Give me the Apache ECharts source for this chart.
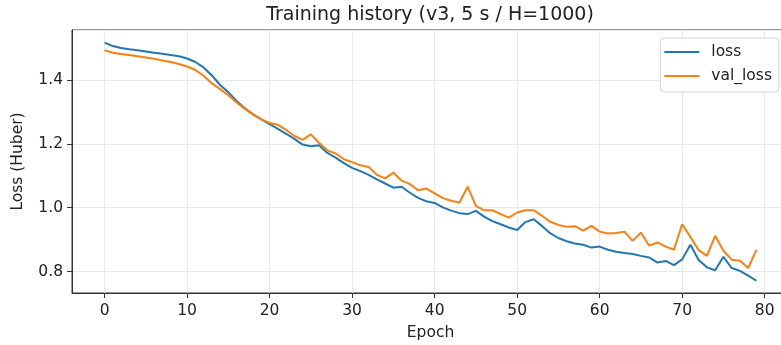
<!DOCTYPE html>
<html>
<head>
<meta charset="utf-8">
<script src="https://cdn.jsdelivr.net/npm/echarts@6/dist/echarts.min.js"></script>
<style>
  html, body { margin: 0; padding: 0; background: #fff; }
</style>
</head>
<body>
<div id="main" style="width:781px;height:345px;"></div>
<script type="text/javascript">
// per-epoch values
var epochs = [];
for (var i = 0; i < 80; i++) epochs.push(i);

var loss = [
  1.518, 1.507, 1.501, 1.497, 1.494, 1.490, 1.486, 1.483, 1.479, 1.475,
  1.468, 1.457, 1.440, 1.415, 1.385, 1.362, 1.335, 1.312, 1.293, 1.277,
  1.262, 1.247, 1.232, 1.216, 1.198, 1.193, 1.196, 1.172, 1.157, 1.140,
  1.125, 1.115, 1.103, 1.089, 1.076, 1.063, 1.066, 1.047, 1.031, 1.020,
  1.015, 1.001, 0.991, 0.983, 0.980, 0.990, 0.972, 0.958, 0.948, 0.938,
  0.930, 0.955, 0.964, 0.943, 0.920, 0.905, 0.895, 0.888, 0.884, 0.875,
  0.878, 0.868, 0.862, 0.858, 0.855, 0.849, 0.844, 0.828, 0.833, 0.820,
  0.838, 0.884, 0.836, 0.813, 0.804, 0.846, 0.811, 0.802, 0.787, 0.771
];

var valLoss = [
  1.494, 1.486, 1.482, 1.479, 1.475, 1.471, 1.467, 1.462, 1.457, 1.451,
  1.443, 1.432, 1.414, 1.390, 1.372, 1.353, 1.330, 1.310, 1.292, 1.277,
  1.266, 1.260, 1.244, 1.225, 1.213, 1.230, 1.203, 1.180, 1.170, 1.152,
  1.143, 1.133, 1.128, 1.103, 1.092, 1.110, 1.085, 1.074, 1.055, 1.060,
  1.045, 1.030, 1.022, 1.016, 1.066, 1.006, 0.992, 0.992, 0.980, 0.969,
  0.985, 0.992, 0.992, 0.975, 0.956, 0.946, 0.940, 0.942, 0.928, 0.943,
  0.925, 0.919, 0.921, 0.925, 0.896, 0.922, 0.881, 0.891, 0.878, 0.868,
  0.948, 0.908, 0.867, 0.849, 0.912, 0.865, 0.837, 0.834, 0.811, 0.868
];

var seriesNames = ['loss', 'val_loss'];

function pairs(ys) {
  return ys.map(function (y, i) { return [epochs[i], y]; });
}

var font = 'DejaVu Sans';
var textColor = '#222';
var labelSize = 15.5;

var myChart = echarts.init(document.getElementById('main'), null, { renderer: 'canvas' });

var option = {
  animation: false,
  backgroundColor: '#fff',
  title: {
    text: 'Training history (v3, 5 s / H=1000)',
    left: 430,
    top: 6,
    padding: 0,
    textAlign: 'center',
    textStyle: { fontFamily: font, fontSize: 19, fontWeight: 'normal', color: textColor }
  },
  legend: {
    data: seriesNames,
    orient: 'vertical',
    right: 2,
    top: 38,
    padding: [6, 7, 8, 4],
    itemGap: 8,
    itemWidth: 35,
    itemHeight: 2,
    icon: 'rect',
    borderColor: '#d4d4d4',
    borderWidth: 1,
    borderRadius: 4,
    backgroundColor: 'rgba(255,255,255,0.85)',
    textStyle: { fontFamily: font, fontSize: labelSize, color: textColor, padding: [0, 0, 0, 7] }
  },
  grid: {
    left: 72,
    width: 717,
    top: 30,
    bottom: 52,
    outerBoundsMode: 'none',
    containLabel: false,
    show: true,
    borderColor: '#333',
    borderWidth: 1
  },
  xAxis: {
    type: 'value',
    min: -3.95,
    max: 82.95,
    splitNumber: 8,
    name: 'Epoch',
    nameLocation: 'middle',
    nameGap: 32,
    nameTextStyle: { fontFamily: font, fontSize: labelSize, color: textColor },
    axisLine: { show: true, onZero: false, lineStyle: { color: '#333', width: 1 } },
    axisTick: { show: true, length: 5, lineStyle: { color: '#333' } },
    axisLabel: {
      showMinLabel: false, showMaxLabel: false,
      margin: 10,
      fontFamily: font, fontSize: labelSize, color: textColor
    },
    splitLine: { show: true, lineStyle: { color: '#e8e8e8', width: 1 } }
  },
  yAxis: {
    type: 'value',
    min: 0.7325,
    max: 1.5575,
    splitNumber: 4,
    name: 'Loss (Huber)',
    nameLocation: 'middle',
    nameGap: 46,
    nameTextStyle: { fontFamily: font, fontSize: labelSize, color: textColor },
    axisLine: { show: true, onZero: false, lineStyle: { color: '#333', width: 1 } },
    axisTick: { show: true, length: 5, lineStyle: { color: '#333' } },
    axisLabel: {
      showMinLabel: false, showMaxLabel: false,
      margin: 9,
      fontFamily: font, fontSize: labelSize, color: textColor,
      formatter: function (v) { return v.toFixed(1); }
    },
    splitLine: { show: true, lineStyle: { color: '#e8e8e8', width: 1 } }
  },
  series: [
    {
      name: seriesNames[0],
      type: 'line',
      data: pairs(loss),
      symbol: 'none',
      color: '#1f77b4',
      lineStyle: { width: 2, color: '#1f77b4' },
      z: 3
    },
    {
      name: seriesNames[1],
      type: 'line',
      data: pairs(valLoss),
      symbol: 'none',
      color: '#ff7f0e',
      lineStyle: { width: 2, color: '#ff7f0e' },
      z: 4
    }
  ]
};

myChart.setOption(option);
</script>
</body>
</html>
